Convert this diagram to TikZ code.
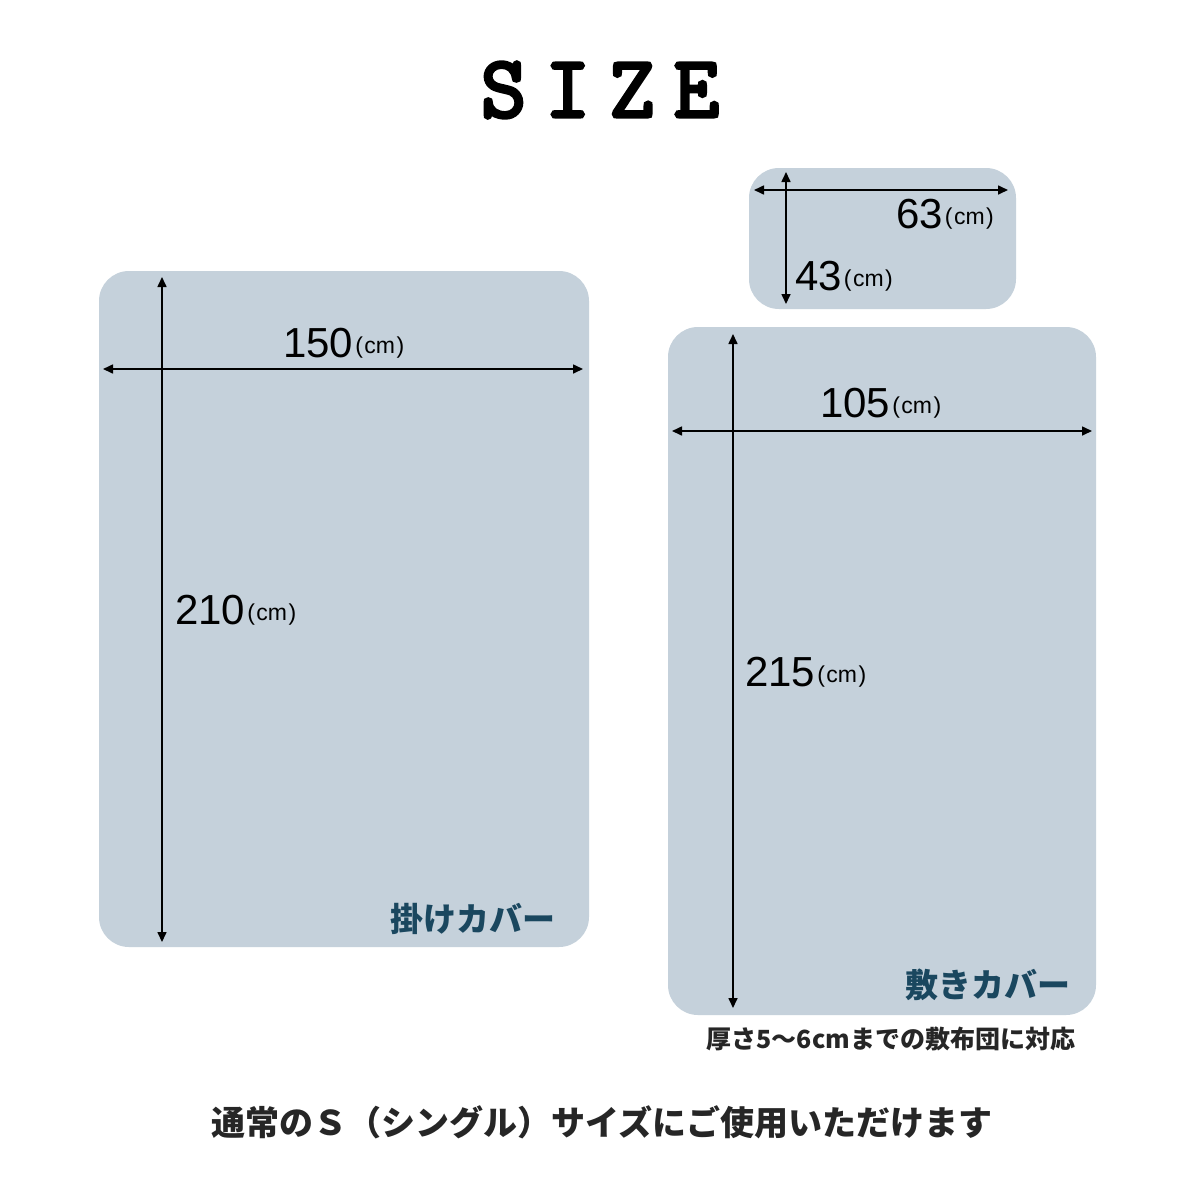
\documentclass[tikz,border=0pt]{standalone}
\usepackage{fontspec}
\setmainfont{Liberation Sans}
\newfontfamily\jpfont{Noto Sans CJK JP}
\newfontfamily\titlefont{Latin Modern Mono}[FakeBold=4]
\usetikzlibrary{arrows.meta}
\definecolor{panel}{HTML}{C5D1DB}
\definecolor{labelc}{HTML}{1A475F}
\tikzset{
  panelbox/.style={fill=panel, draw=none, rounded corners=30pt},
  dimline/.style={line width=1.6pt, {Triangle[length=10pt,width=9pt]}-{Triangle[length=10pt,width=9pt]}},
  dimlabel/.style={anchor=base west, inner sep=0pt, font=\fontsize{42}{42}\selectfont},
  namelabel/.style={inner sep=0pt, text=labelc, font=\jpfont\bfseries\fontsize{33}{33}\selectfont},
}
\newcommand{\cmunit}{\hspace{2pt}\raisebox{4pt}{\fontsize{23}{23}\selectfont(\hspace{1.5pt}cm\hspace{1.5pt})}}
\begin{document}
\begin{tikzpicture}[x=1pt,y=-1pt]
\useasboundingbox (0,0) rectangle (1200,1200);
\fill[white] (0,0) rectangle (1200,1200);

% title
\node[inner sep=0pt, font=\titlefont\fontsize{88}{88}\selectfont] (title) at (600,90) {S\hspace{19pt}I\hspace{19pt}Z\hspace{19pt}E};

% panels
\node[panelbox, minimum width=490pt, minimum height=676pt, inner sep=0pt] (cover) at (344,609) {};
\node[panelbox, minimum width=267pt, minimum height=141pt, inner sep=0pt] (pillow) at (882.5,238.5) {};
\node[panelbox, minimum width=428pt, minimum height=688pt, inner sep=0pt] (sheet) at (882,671) {};

% coordinates for dimension lines
\coordinate (cvt) at (162,277); \coordinate (cvb) at (162,942);
\coordinate (chl) at (103,369); \coordinate (chr) at (583,369);
\coordinate (pvt) at (786,172); \coordinate (pvb) at (786,304);
\coordinate (phl) at (754,190); \coordinate (phr) at (1008,190);
\coordinate (svt) at (733,334); \coordinate (svb) at (733,1008);
\coordinate (shl) at (672,431); \coordinate (shr) at (1092,431);

\draw[dimline] (cvt) -- (cvb);
\draw[dimline] (chl) -- (chr);
\draw[dimline] (pvt) -- (pvb);
\draw[dimline] (phl) -- (phr);
\draw[dimline] (svt) -- (svb);
\draw[dimline] (shl) -- (shr);

% dimension labels
\node[dimlabel] (w150) at (283,357) {150\cmunit};
\node[dimlabel] (h210) at (175,624) {210\cmunit};
\node[dimlabel] (w105) at (820,417) {105\cmunit};
\node[dimlabel] (h215) at (745,686) {215\cmunit};
\node[dimlabel] (w63) at (896,228) {63\cmunit};
\node[dimlabel] (h43) at (795,290) {43\cmunit};

% names
\node[namelabel] (covername) at (473,919) {掛けカバー};
\node[namelabel] (sheetname) at (988,985) {敷きカバー};

% captions
\node[inner sep=0pt, font=\jpfont\bfseries\fontsize{25}{25}\selectfont, text=black!85] (note) at (891,1039) {厚さ5〜6cmまでの敷布団に対応};
\node[inner sep=0pt, font=\jpfont\bfseries\fontsize{34}{34}\selectfont, text=black!85] (usage) at (602,1122) {通常のＳ（シングル）サイズにご使用いただけます};
\end{tikzpicture}
\end{document}
